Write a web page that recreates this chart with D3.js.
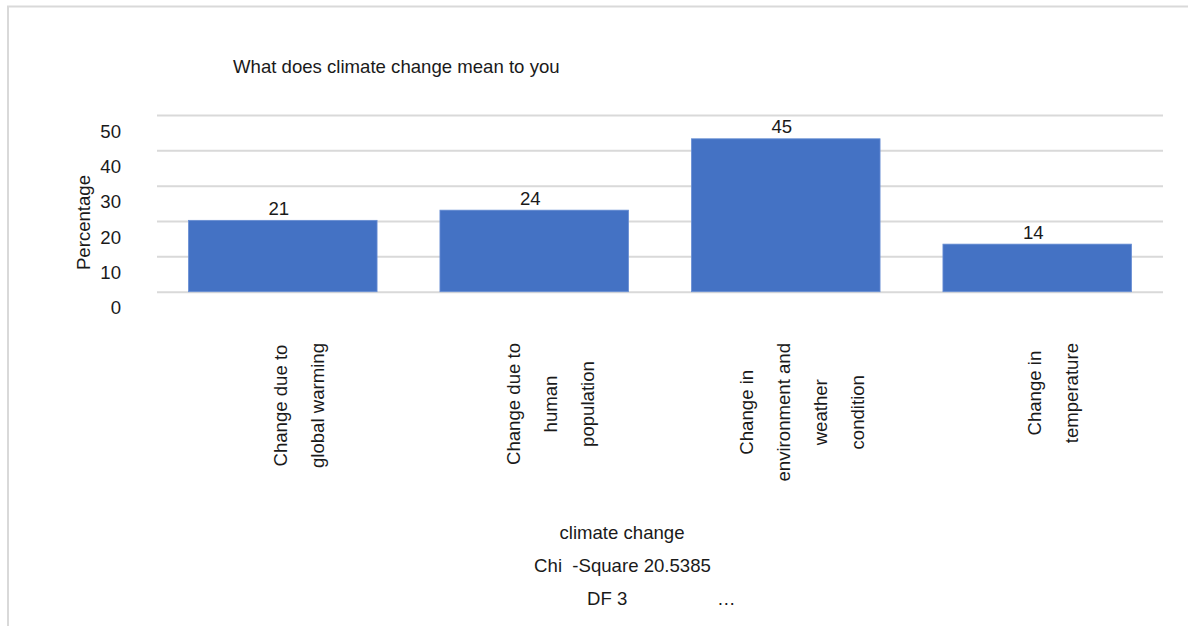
<!DOCTYPE html>
<html>
<head>
<meta charset="utf-8">
<script src="https://cdn.jsdelivr.net/npm/d3@7"></script>
<style>
  html, body { margin: 0; padding: 0; background: #ffffff; }
  svg { display: block; }
  text { font-family: "Liberation Sans", Arial, sans-serif; fill: #1a1a1a; }
</style>
</head>
<body>
<svg id="chart" width="1188" height="626"></svg>
<script>
// Survey answers: "What does climate change mean to you"
const categories = [
  "Change due to global warming",
  "Change due to human population",
  "Change in environment and weather condition",
  "Change in temperature"
];
// Category labels as they wrap on the axis
const categoryLines = [
  ["Change due to", "global warming"],
  ["Change due to", "human", "population"],
  ["Change in", "environment and", "weather", "condition"],
  ["Change in", "temperature"]
];
const percentages = [21, 24, 45, 14];
const yTickLabels = ["0", "10", "20", "30", "40", "50"];

const chartTitle = "What does climate change mean to you";
const yTitle = "Percentage";
const xTitle = "climate change";
const chiLine = "Chi  -Square 20.5385";
const dfLine = "DF 3";
const ellipsis = "\u2026";

const W = 1188, H = 626;
const FS = 18.6;
const svg = d3.select("#chart");

// outer frame of the chart area
svg.append("rect")
  .attr("x", 8).attr("y", 6.5)
  .attr("width", W + 20).attr("height", H + 20)
  .attr("fill", "none")
  .attr("stroke", "#d9d9d9")
  .attr("stroke-width", 2);

const plot = { left: 157, right: 1163, top: 115, bottom: 291.7 };
const yMax = 52;

const x = d3.scaleBand()
  .domain(categories)
  .range([plot.left, plot.right])
  .paddingInner(0.25)
  .paddingOuter(0.125);

const y = d3.scaleLinear()
  .domain([0, yMax])
  .range([plot.bottom, plot.top]);

// evenly spaced gridlines, one per tick label
const gridValues = yTickLabels.map((_, i) => i * yMax / (yTickLabels.length - 1));

const yAxis = d3.axisLeft(y)
  .tickValues(gridValues)
  .tickFormat((d, i) => yTickLabels[i])
  .tickSize(-(plot.right - plot.left))
  .tickPadding(36);

const gy = svg.append("g")
  .attr("transform", `translate(${plot.left},0)`)
  .call(yAxis);
gy.select(".domain").remove();
gy.selectAll(".tick line")
  .attr("stroke", "#d9d9d9")
  .attr("stroke-width", 2);
gy.selectAll(".tick text")
  .attr("dy", 22)
  .attr("font-size", FS)
  .attr("font-family", "Liberation Sans, Arial, sans-serif")
  .attr("fill", "#1a1a1a");

// bars
svg.append("g").selectAll("rect")
  .data(categories)
  .join("rect")
  .attr("x", d => x(d))
  .attr("width", x.bandwidth())
  .attr("y", (d, i) => y(percentages[i]))
  .attr("height", (d, i) => y(0) - y(percentages[i]))
  .attr("fill", "#4472c4")
  .attr("stroke", "#6a90d4")
  .attr("stroke-width", 0.8);

// value labels
svg.append("g").selectAll("text")
  .data(categories)
  .join("text")
  .attr("x", d => x(d) + x.bandwidth() / 2 - 4)
  .attr("y", (d, i) => y(percentages[i]) - 5.5)
  .attr("text-anchor", "middle")
  .attr("font-size", FS)
  .text((d, i) => percentages[i]);

// chart title
svg.append("text")
  .attr("x", 233).attr("y", 73)
  .attr("font-size", FS)
  .text(chartTitle);

// y axis title
svg.append("text")
  .attr("transform", `translate(90,222.5) rotate(-90)`)
  .attr("text-anchor", "middle")
  .attr("font-size", FS)
  .text(yTitle);

// rotated, wrapped category labels
const lineGap = 37;
const labelTop = 343;
const catGroups = svg.append("g").selectAll("g")
  .data(categories)
  .join("g");
catGroups.each(function (d, ci) {
  const g = d3.select(this);
  const lines = categoryLines[ci];
  const n = lines.length;
  const cx = x(d) + x.bandwidth() / 2 + 22.5;
  const texts = g.selectAll("text")
    .data(lines)
    .join("text")
    .attr("font-size", FS)
    .attr("text-anchor", "middle")
    .text(t => t);
  let maxLen = 0;
  texts.each(function () { maxLen = Math.max(maxLen, this.getComputedTextLength()); });
  const cy = labelTop + maxLen / 2;
  texts.attr("transform", (t, i) =>
    `translate(${cx + (i - (n - 1) / 2) * lineGap},${cy}) rotate(-90)`);
});

// x axis title and test statistics
svg.append("text")
  .attr("x", 622).attr("y", 539)
  .attr("text-anchor", "middle")
  .attr("font-size", FS)
  .text(xTitle);

svg.append("text")
  .attr("x", 622.5).attr("y", 572)
  .attr("text-anchor", "middle")
  .attr("font-size", FS)
  .style("white-space", "pre")
  .text(chiLine);

svg.append("text")
  .attr("x", 587).attr("y", 605)
  .attr("font-size", FS)
  .text(dfLine);

svg.append("text")
  .attr("x", 717).attr("y", 605)
  .attr("font-size", FS)
  .text(ellipsis);
</script>
</body>
</html>
